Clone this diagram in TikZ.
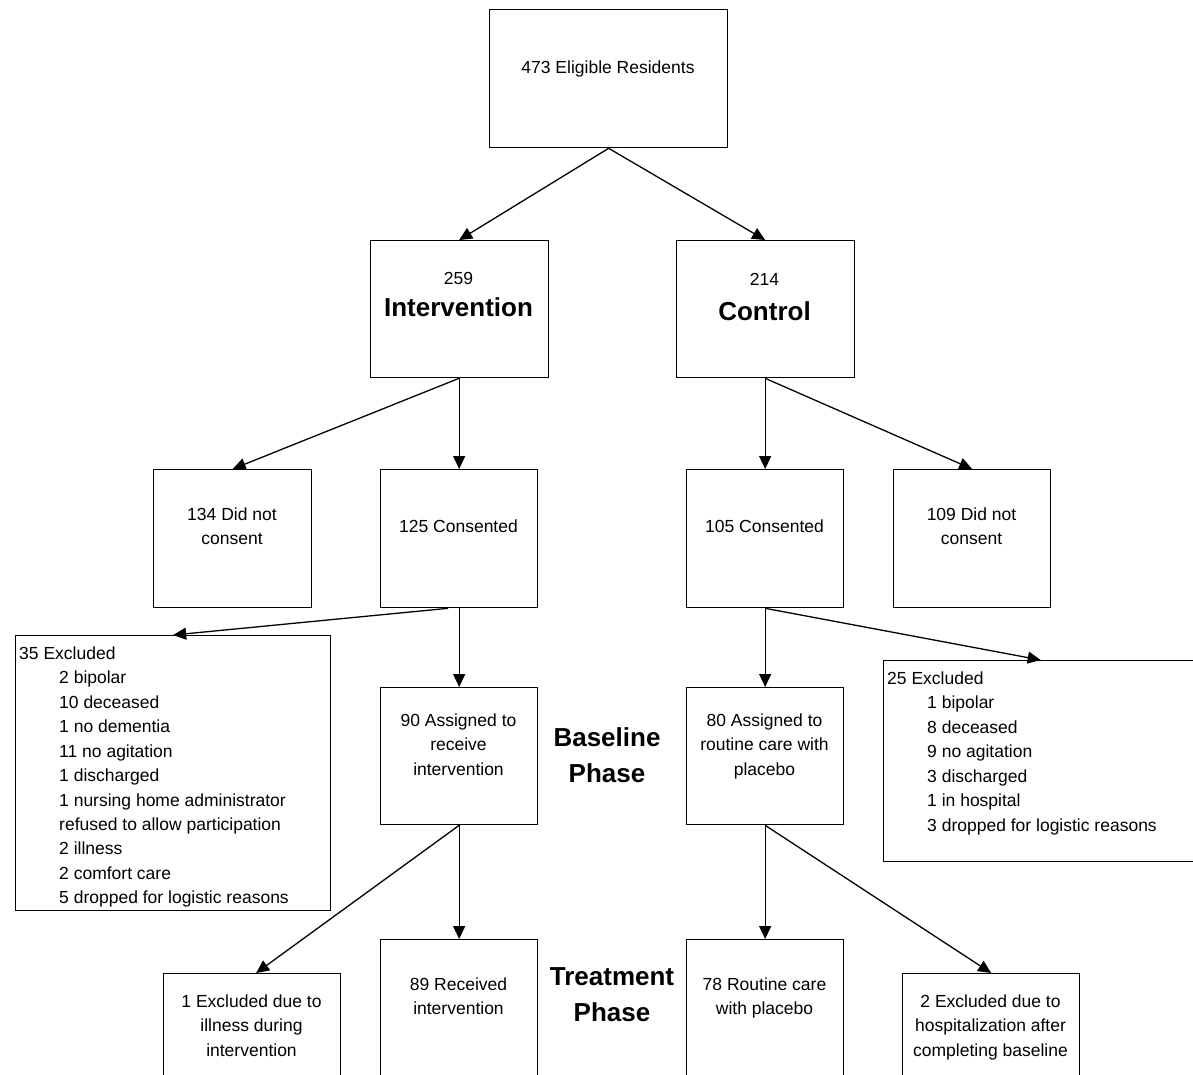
\documentclass[tikz,border=0pt]{standalone}
\usepackage{fontspec}
\setmainfont{Liberation Sans}
\usetikzlibrary{arrows.meta}
\newcommand\myind{\hspace*{40pt}}
\begin{document}
\begin{tikzpicture}[x=1pt,y=-1pt,
  box/.style 2 args={draw=black,line width=1.3pt,inner sep=0pt,anchor=north west,minimum width=#1,minimum height=#2},
  txt/.style={anchor=north,inner sep=0pt,align=center,font=\fontsize{17.5}{24.4}\selectfont},
  lst/.style={anchor=north west,inner sep=0pt,align=left,font=\fontsize{17.5}{24.45}\selectfont},
  big/.style={anchor=north,inner sep=0pt,align=center,font=\fontsize{26}{36}\selectfont\bfseries},
  arr/.style={draw=black,line width=1.3pt,-{Triangle[length=13pt,width=12pt]}}]
\useasboundingbox (0,0) rectangle (1193,1074);
\clip (0,0) rectangle (1193,1074);
% boxes
\node[box={238}{138}] (top) at (489,9) {};
\node[box={178}{137}] (intv) at (369.5,240) {};
\node[box={178}{137}] (ctrl) at (675.5,240) {};
\node[box={158}{138}] (dnc1) at (153,469) {};
\node[box={157}{138}] (cons1) at (380,469) {};
\node[box={157}{138}] (cons2) at (686,469) {};
\node[box={157}{138}] (dnc2) at (893,469) {};
\node[box={315}{275}] (exc1) at (15,635) {};
\node[box={157}{137}] (asg1) at (380,687) {};
\node[box={157}{137}] (asg2) at (686,687) {};
\node[box={314}{201}] (exc2) at (883,660) {};
\node[box={177}{160}] (ill) at (163,973) {};
\node[box={157}{180}] (rec) at (380,939) {};
\node[box={157}{180}] (rout) at (686,939) {};
\node[box={177}{160}] (hosp) at (902,973) {};
% texts
\node[txt] (ttop) at (608,61) {473 Eligible Residents};
\node[txt] (tintvn) at (458.5,272.5) {259};
\node[big] (tintv) at (458.5,297.4) {Intervention};
\node[txt] (tctrln) at (764.5,273.5) {214};
\node[big] (tctrl) at (764.5,301.4) {Control};
\node[txt] (tdnc1) at (232,507.5) {134 Did not\\consent};
\node[txt] (tcons1) at (458.5,519.5) {125 Consented};
\node[txt] (tcons2) at (764.5,519.5) {105 Consented};
\node[txt] (tdnc2) at (971.5,507.5) {109 Did not\\consent};
\node[lst] (texc1) at (19,646.5) {35 Excluded\\
\myind 2 bipolar\\
\myind 10 deceased\\
\myind 1 no dementia\\
\myind 11 no agitation\\
\myind 1 discharged\\
\myind 1 nursing home administrator\\
\myind refused to allow participation\\
\myind 2 illness\\
\myind 2 comfort care\\
\myind 5 dropped for logistic reasons};
\node[txt] (tasg1) at (458.5,713.5) {90 Assigned to\\receive\\intervention};
\node[txt] (tasg2) at (764.5,713.5) {80 Assigned to\\routine care with\\placebo};
\node[big] (tbase) at (607,727.4) {Baseline\\Phase};
\node[lst] (texc2) at (887,671.5) {25 Excluded\\
\myind 1 bipolar\\
\myind 8 deceased\\
\myind 9 no agitation\\
\myind 3 discharged\\
\myind 1 in hospital\\
\myind 3 dropped for logistic reasons};
\node[txt] (till) at (251.5,994.5) {1 Excluded due to\\illness during\\intervention};
\node[txt] (trec) at (458.5,977.5) {89 Received\\intervention};
\node[big] (ttreat) at (612,967.4) {Treatment\\Phase};
\node[txt] (trout) at (764.5,977.5) {78 Routine care\\with placebo};
\node[txt] (thosp) at (990.5,994.5) {2 Excluded due to\\hospitalization after\\completing baseline};
% connectors
\draw[arr] (top.south) -- (intv.north);
\draw[arr] (top.south) -- (ctrl.north);
\draw[arr] (intv.south) -- (dnc1.north);
\draw[arr] (intv.south) -- (cons1.north);
\draw[arr] (ctrl.south) -- (cons2.north);
\draw[arr] (ctrl.south) -- (dnc2.north);
\draw[arr] ([xshift=-11pt]cons1.south) -- (exc1.north);
\draw[arr] (cons1.south) -- (asg1.north);
\draw[arr] (cons2.south) -- (asg2.north);
\draw[arr] (cons2.south) -- (exc2.north);
\draw[arr] (asg1.south) -- ([xshift=4pt]ill.north);
\draw[arr] (asg1.south) -- (rec.north);
\draw[arr] (asg2.south) -- (rout.north);
\draw[arr] (asg2.south) -- (hosp.north);
\end{tikzpicture}
\end{document}
